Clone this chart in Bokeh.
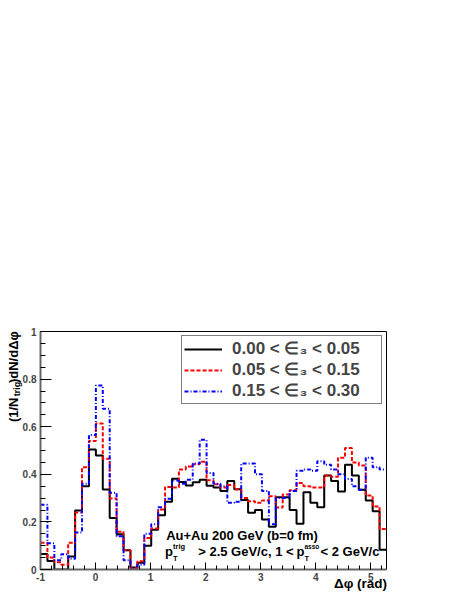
import numpy as np
from bokeh.plotting import figure
from bokeh.models import (Range1d, FixedTicker, Label, Legend, LegendItem,
                          CustomJSTickFormatter, LinearAxis)
from bokeh.embed import file_html
from bokeh.resources import INLINE

# ---- data ----
n_bins = 50
phi_lo = -1.0
phi_hi = 2 * np.pi - 1.0

eps_low = [0.065, 0.036, 0.0, 0.0, 0.055, 0.248, 0.35, 0.504, 0.479, 0.336,
           0.216, 0.148, 0.081, 0.008, 0.028, 0.10, 0.167, 0.228, 0.285, 0.381,
           0.368, 0.353, 0.367, 0.377, 0.352, 0.345, 0.33, 0.372, 0.337, 0.292,
           0.238, 0.25, 0.21, 0.18, 0.304, 0.304, 0.25, 0.192, 0.325, 0.28,
           0.262, 0.395, 0.372, 0.328, 0.44, 0.395, 0.335, 0.29, 0.245, 0.083]
eps_mid = [0.112, 0.05, 0.03, 0.02, 0.112, 0.24, 0.43, 0.54, 0.613, 0.465,
           0.298, 0.159, 0.081, 0.005, 0.035, 0.132, 0.172, 0.252, 0.347, 0.345,
           0.42, 0.433, 0.442, 0.453, 0.375, 0.358, 0.345, 0.355, 0.337, 0.3,
           0.287, 0.28, 0.29, 0.308, 0.26, 0.315, 0.333, 0.363, 0.35, 0.345,
           0.345, 0.395, 0.39, 0.47, 0.51, 0.45, 0.437, 0.311, 0.265, 0.17]
eps_high = [0.272, 0.11, 0.039, 0.064, 0.045, 0.155, 0.36, 0.565, 0.773, 0.675,
            0.322, 0.14, 0.039, 0.0, 0.02, 0.15, 0.19, 0.262, 0.297, 0.374,
            0.36, 0.377, 0.445, 0.545, 0.405, 0.36, 0.35, 0.28, 0.285, 0.445,
            0.445, 0.40, 0.33, 0.19, 0.30, 0.30, 0.33, 0.415, 0.42, 0.415,
            0.455, 0.44, 0.42, 0.40, 0.38, 0.35, 0.335, 0.47, 0.43, 0.42]
series_labels = ["0.00 < \u2208\u2083 < 0.05", "0.05 < \u2208\u2083 < 0.15", "0.15 < \u2208\u2083 < 0.30"]
x_ticks = [-1, 0, 1, 2, 3, 4, 5]
y_ticks = [0, 0.2, 0.4, 0.6, 0.8, 1]
x_title = "\u0394\u03c6 (rad)"
y_title_parts = ["(1/N", ")dN/d\u0394\u03c6"]
y_title_sub = "trig"

edges = np.linspace(phi_lo, phi_hi, n_bins + 1)

# ---- layout (pixels of the page; bokeh page has no margin) ----
W, H = 463, 599
FL, FR, FT, FB = 40, 386, 331, 569  # frame edges
FONT = "Liberation Sans"
NB = "\u00a0"

def fx(px):
    return phi_lo + (px - FL) / (FR - FL) * (phi_hi - phi_lo)

def fy(py):
    return (FB - py) / (FB - FT)

p = figure(width=W, height=H, x_range=Range1d(phi_lo, phi_hi), y_range=Range1d(0, 1),
           output_backend="svg", toolbar_location=None,
           min_border_left=FL, min_border_right=W - FR,
           min_border_top=FT, min_border_bottom=H - FB)
p.grid.visible = False
p.outline_line_color = "black"
p.outline_line_width = 1
p.background_fill_color = "white"
p.border_fill_color = "white"

styles = [("black", "solid"), ("red", "4 2"), ("blue", "4 2 1 2")]
renderers = []
for vals, (col, dash) in zip([eps_low, eps_mid, eps_high], styles):
    yy = list(vals) + [vals[-1]]
    r = p.step(edges, yy, mode="after", line_color=col, line_width=2, line_dash=dash)
    renderers.append(r)

# axes
for ax in (p.xaxis[0], p.yaxis[0]):
    ax.axis_line_color = "#666666"
    ax.axis_line_width = 2
    ax.major_tick_line_color = "black"
    ax.minor_tick_line_color = "black"
    ax.major_tick_out = 0
    ax.minor_tick_out = 0
    ax.major_label_text_font = FONT
    ax.major_label_text_font_style = "bold"
    ax.major_label_text_font_size = "10px"
    ax.formatter = CustomJSTickFormatter(code="return String(tick);")

p.xaxis.ticker = FixedTicker(ticks=x_ticks, minor_ticks=[round(v, 2) for v in np.arange(-1.0, 5.21, 0.2)])
p.yaxis.ticker = FixedTicker(ticks=y_ticks, minor_ticks=[round(v, 2) for v in np.arange(0.0, 1.001, 0.05)])
p.xaxis.major_tick_in = 7
p.xaxis.minor_tick_in = 4
p.yaxis.major_tick_in = 11
p.yaxis.minor_tick_in = 5
p.xaxis.major_label_standoff = 3
p.yaxis.major_label_standoff = 4

# ---- y title: main text on an outer axis label, subscript on the inner axis label ----
yax = p.yaxis[0]
ax_main = LinearAxis(ticker=FixedTicker(ticks=[]), axis_line_color=None,
                     major_tick_line_color=None, minor_tick_line_color=None,
                     major_tick_in=0, major_tick_out=0, minor_tick_in=0, minor_tick_out=0,
                     major_label_text_font_size="0px", major_label_standoff=0)

def set_align(ax):
    for cand in ("end", "right"):
        try:
            ax.axis_label_align = cand
            return True
        except Exception:
            continue
    return False

aligned = set_align(yax) and set_align(ax_main)
gap = NB * 4            # room for the subscript "trig" (13px bold)
if aligned:
    # label is centred on the top of the frame: trailing blanks push the text below it
    main_text = y_title_parts[0] + gap + y_title_parts[1] + NB * 25
    sub_text = y_title_sub + NB * 46
else:
    main_text = NB * 41 + y_title_parts[0] + gap + y_title_parts[1]
    sub_text = NB * 69 + y_title_sub + NB * 20

for ax, txt, size, so in ((yax, sub_text, "9px", -2), (ax_main, main_text, "13px", -12)):
    ax.axis_label = txt
    ax.axis_label_text_font = FONT
    ax.axis_label_text_font_style = "bold"
    ax.axis_label_text_font_size = size
    ax.axis_label_text_color = "black"
    ax.axis_label_standoff = so
p.add_layout(ax_main, "left")

# ---- x title as a tick label of an extra invisible axis (pixel-unit range) ----
p.extra_x_ranges = {"pix": Range1d(start=FL, end=FR)}
ax_xt = LinearAxis(x_range_name="pix")
ax_xt.ticker = FixedTicker(ticks=[360.0], minor_ticks=[])
ax_xt.formatter = CustomJSTickFormatter(args=dict(t=x_title), code="return t;")
ax_xt.axis_line_color = None
ax_xt.major_tick_line_color = None
ax_xt.minor_tick_line_color = None
ax_xt.major_tick_in = 0
ax_xt.major_tick_out = 0
ax_xt.minor_tick_in = 0
ax_xt.minor_tick_out = 0
ax_xt.major_label_standoff = -8
ax_xt.major_label_text_font = FONT
ax_xt.major_label_text_font_style = "bold"
ax_xt.major_label_text_font_size = "13.5px"
ax_xt.major_label_text_color = "black"
p.add_layout(ax_xt, "below")

# legend
legend = Legend(items=[LegendItem(label=lab, renderers=[r]) for lab, r in zip(series_labels, renderers)],
                location="top_right", margin=4, padding=2, spacing=0,
                glyph_width=38, glyph_height=20, label_height=20, label_width=147,
                label_standoff=10, label_text_font=FONT, label_text_font_style="bold",
                label_text_font_size="17px", border_line_color="black", border_line_width=1.5,
                background_fill_color="white", background_fill_alpha=1.0)
p.add_layout(legend)

def lab(x, y, text, size, align="left", baseline="middle"):
    p.add_layout(Label(x=fx(x), y=fy(y), text=text, text_font=FONT, text_font_style="bold",
                       text_font_size=size, text_align=align, text_baseline=baseline,
                       text_color="black"))

# annotation text inside the frame
lab(165.7, 534.7, "Au+Au 200 GeV (b=0 fm)", "13px")
lab(164.5, 551, "p", "13px")
lab(172.5, 545.8, "trig", "7.5px")
lab(172.5, 557.5, "T", "7.5px")
lab(197.7, 551, "> 2.5 GeV/c, 1 <", "13px")
lab(296, 551, "p", "13px")
lab(304, 545.8, "asso", "6.5px")
lab(304, 557.5, "T", "7.5px")
lab(320, 551, "< 2 GeV/c", "13px")

open("out.html", "w").write(file_html(p, INLINE))
